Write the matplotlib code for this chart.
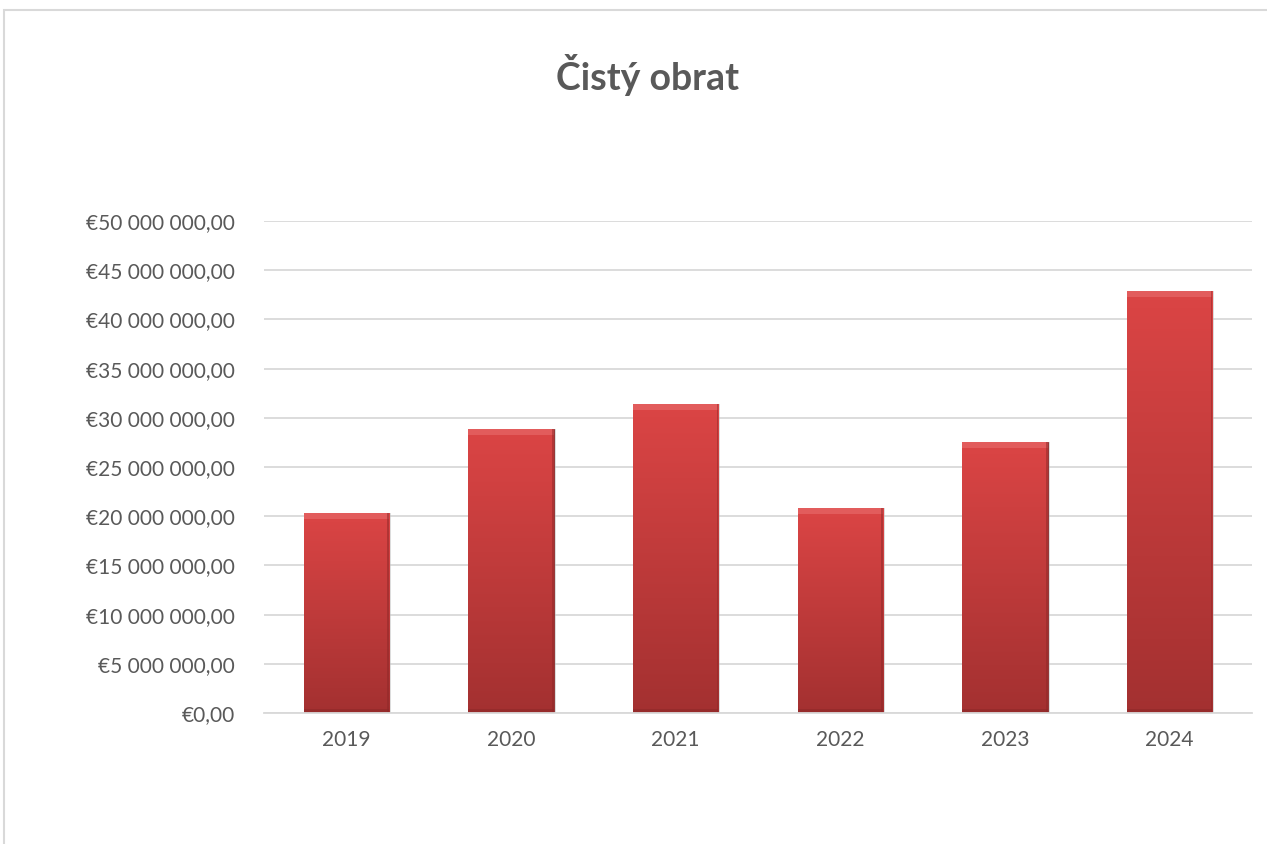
import matplotlib.pyplot as plt
import numpy as np
from matplotlib.patches import Rectangle
from matplotlib.ticker import FuncFormatter

plt.rcParams['font.family'] = ['Lato', 'DejaVu Sans']

# Data
years = ['2019', '2020', '2021', '2022', '2023', '2024']
turnover = [20.3e6, 28.9e6, 31.4e6, 20.8e6, 27.5e6, 42.9e6]

text_col = '#595959'
grid_col = '#d9d9d9'

fig = plt.figure(figsize=(12.67, 8.44), dpi=100)

# Light chart-area frame (cut off at right and bottom like the source)
fig.patches.append(Rectangle((4 / 1267, -0.1), 1.2, 1 - 10 / 844 + 0.1,
                             transform=fig.transFigure, fill=False,
                             edgecolor=grid_col, linewidth=1.5))

ax = fig.add_axes([264 / 1267, 1 - 713 / 844, (1252 - 264) / 1267, (713 - 221) / 844])

x = np.arange(len(years))
width = 0.52
bars = ax.bar(x, turnover, width=width, color='#c23b3b', zorder=3,
              edgecolor='#8a2a2a', linewidth=0.6)

# Vertical gradient inside each bar (lighter top, darker bottom)
grad = np.linspace(0, 1, 256).reshape(-1, 1)
top = np.array([0.86, 0.27, 0.27])
bot = np.array([0.64, 0.19, 0.19])
img = top * (1 - grad[..., None]) + bot * grad[..., None]
img = img.reshape(256, 1, 3)
for b in bars:
    x0, y0 = b.get_x(), b.get_y()
    w, h = b.get_width(), b.get_height()
    im = ax.imshow(img, extent=[x0, x0 + w, y0, y0 + h], aspect='auto',
                   origin='upper', zorder=3.5)
    im.set_clip_path(b)
    # soft shadow on the right
    ax.add_patch(Rectangle((x0 + w, y0), 0.012, h, color='#bbbbbb',
                           alpha=0.5, zorder=2.5, linewidth=0))
    # bevel highlight on top edge, darker rim at bottom and right
    ax.add_patch(Rectangle((x0, y0 + h - 0.6e6), w, 0.6e6, color='#e25c5c',
                           zorder=4, linewidth=0))
    ax.add_patch(Rectangle((x0, y0), w, 0.4e6, color='#8e2828',
                           alpha=0.6, zorder=4, linewidth=0))
    ax.add_patch(Rectangle((x0 + w - 0.012, y0), 0.012, h, color='#8e2828',
                           alpha=0.5, zorder=4, linewidth=0))

ax.set_xlim(-0.5, len(years) - 0.5)
ax.set_ylim(0, 50e6)
ax.set_yticks(np.arange(0, 50e6 + 1, 5e6))


def euro(v, pos):
    s = f'{v:,.2f}'.replace(',', ' ').replace('.', ',')
    return '€' + s


ax.yaxis.set_major_formatter(FuncFormatter(euro))
ax.set_xticks(x)
ax.set_xticklabels(years)
ax.tick_params(axis='both', length=0, labelsize=15, colors=text_col)
ax.tick_params(axis='y', pad=21)
ax.tick_params(axis='x', pad=12)

ax.grid(axis='y', color=grid_col, linewidth=1.3, zorder=0)
for s in ['top', 'right', 'left']:
    ax.spines[s].set_visible(False)
ax.spines['bottom'].set_color(grid_col)
ax.spines['bottom'].set_linewidth(1.3)
ax.spines['bottom'].set_zorder(5)

fig.text(647 / 1267, 1 - 75 / 844, 'Čistý obrat', ha='center', va='center',
         fontsize=27, fontweight='bold', color=text_col)

fig.savefig('out.png', dpi=100)
